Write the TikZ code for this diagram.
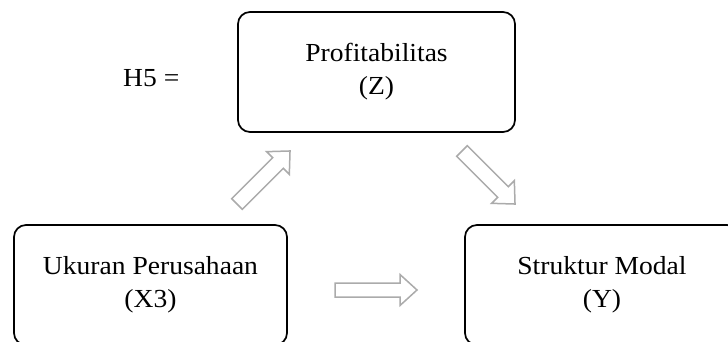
\documentclass[tikz,border=0pt]{standalone}
\usepackage{fontspec}
\setmainfont[FakeStretch=1.06]{Liberation Serif}
\begin{document}
\begin{tikzpicture}[x=1pt,y=-1pt,
  box/.style={draw=black, line width=1.7pt, rounded corners=12pt, align=center,
    font=\fontsize{26}{33}\selectfont, inner sep=0pt},
  blockarrow/.style={draw=black!33, line width=1.5pt, fill=white, line join=miter},
  lbl/.style={font=\fontsize{26}{33}\selectfont, inner sep=0pt}]
\useasboundingbox (0,0) rectangle (728,342);
\clip (0,0) rectangle (728,342);
\fill[white] (0,0) rectangle (728,342);

\node[box, minimum width=277pt, minimum height=120pt] (z) at (376.5,72) {Profitabilitas\\(Z)};
\node[box, minimum width=273pt, minimum height=120pt] (x3) at (150.5,285) {Ukuran Perusahaan\\(X3)};
\node[box, minimum width=274pt, minimum height=120pt] (y) at (602,285) {Struktur Modal\\(Y)};

\node[lbl, anchor=base west] (h5) at (123,87) {H5 =};

% block arrows
\coordinate (a1) at (237,204);
\coordinate (a2) at (462,151);
\coordinate (a3) at (335,290);
\draw[blockarrow, shift={(a1)}, rotate=45]
  (0,-7.5) -- (58,-7.5) -- (58,-16) -- (75,0) -- (58,16) -- (58,7.5) -- (0,7.5) -- cycle;
\draw[blockarrow, shift={(a2)}, rotate=-45]
  (0,-7.5) -- (58,-7.5) -- (58,-16) -- (75,0) -- (58,16) -- (58,7.5) -- (0,7.5) -- cycle;
\draw[blockarrow, shift={(a3)}]
  (0,-7) -- (65,-7) -- (65,-15.5) -- (82,0) -- (65,15.5) -- (65,7) -- (0,7) -- cycle;
\end{tikzpicture}
\end{document}
